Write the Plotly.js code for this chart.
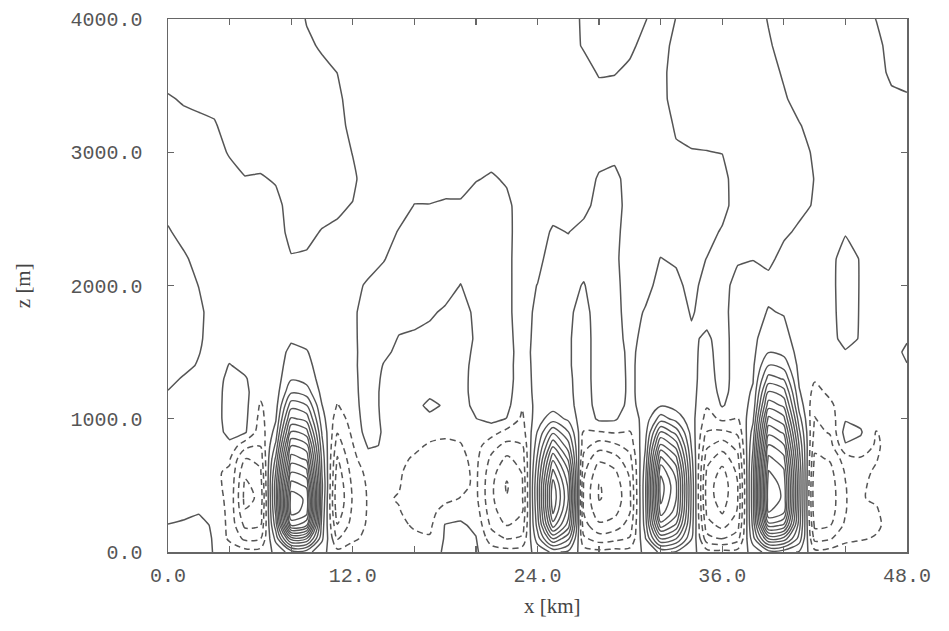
<!DOCTYPE html>
<html>
<head>
<meta charset="utf-8">
<script src="https://cdn.plot.ly/plotly-3.0.1.min.js"></script>
<style>html,body{margin:0;padding:0;background:#fff;}#plot{width:949px;height:631px;}</style>
</head>
<body>
<div id="plot"></div>
<script>
// horizontal positions (km) and heights (m) of the grid
const xKm = [0,1,2,3,4,5,6,7,8,9,10,11,12,13,14,15,16,17,18,19,20,21,22,23,24,25,26,27,28,29,30,31,32,33,34,35,36,37,38,39,40,41,42,43,44,45,46,47,48];
const zM = [0,100,200,300,400,500,600,700,800,900,1000,1100,1200,1300,1400,1500,1600,1800,2000,2200,2400,2600,2800,3000,3200,3400,3600,3800,4000];
// vertical-velocity values, one column per x position (bottom to top)
const w00 = [0.5,0.4,0.04,-0.4,-0.5,-0.5,-0.5,-0.5,-0.5,-0.5,-0.45,-0.4,-0.05,0.3,0.4,0.45,0.45,0.45,0.4,0.3,0.1,-0.3,-0.4,-0.4,-0.4,-0.1,0.4,0.5,0.5];
const w01 = [0.5,0.4,0.2,-0.3,-0.5,-0.55,-0.6,-0.6,-0.6,-0.55,-0.5,-0.4,-0.3,-0.1,0.3,0.4,0.45,0.45,0.4,0.15,-0.3,-0.4,-0.4,-0.4,-0.3,0.1,0.4,0.5,0.5];
const w02 = [0.4,0.35,0.25,-0.05,-0.5,-0.6,-0.7,-0.7,-0.7,-0.65,-0.6,-0.5,-0.4,-0.3,-0.1,0.05,0.15,0.2,-0.02,-0.3,-0.4,-0.4,-0.4,-0.4,-0.2,0.2,0.4,0.5,0.5];
const w03 = [-0.05,-0.07,-0.12,-0.3,-0.6,-0.8,-0.9,-0.9,-0.8,-0.6,-0.5,-0.5,-0.5,-0.5,-0.5,-0.5,-0.45,-0.4,-0.4,-0.4,-0.4,-0.4,-0.4,-0.4,-0.1,0.3,0.45,0.5,0.5];
const w04 = [-0.3,-1.2,-1.3,-1.3,-1.25,-1.2,-1.1,-0.9,-0.3,0.4,0.5,0.5,0.45,0.3,0.05,-0.3,-0.4,-0.4,-0.4,-0.4,-0.4,-0.4,-0.4,0.1,0.4,0.45,0.5,0.5,0.5];
const w05 = [-0.6,-2.2,-3.2,-3.9,-4.3,-4.2,-3.8,-3.05,-1.6,0.15,0.25,0.3,0.3,0.1,-0.3,-0.4,-0.4,-0.4,-0.4,-0.4,-0.4,-0.4,-0.05,0.4,0.45,0.5,0.5,0.5,0.5];
const w06 = [-0.6,-2.05,-3.05,-3.5,-3.8,-3.6,-3.2,-2.6,-1.95,-1.6,-1.3,-1.1,-0.8,-0.6,-0.4,-0.35,-0.3,-0.3,-0.3,-0.3,-0.3,-0.3,-0.1,0.4,0.45,0.5,0.5,0.5,0.5];
const w07 = [0.2,1.3,2.5,3.2,3.6,3.6,3.05,2.2,1.2,0.4,-0.1,-0.4,-0.5,-0.5,-0.45,-0.4,-0.4,-0.35,-0.35,-0.3,-0.3,-0.3,0.1,0.4,0.45,0.5,0.5,0.5,0.5];
const w08 = [1.5,6.5,12.05,14.5,14.6,13.5,11.95,10.5,8.95,7.05,5.2,3.6,1.85,0.9,0.45,0.2,-0.1,-0.2,-0.15,-0.05,0.2,0.4,0.45,0.5,0.5,0.5,0.5,0.5,0.5];
const w09 = [1.4,6.05,11.05,13.5,13.8,12.8,11.3,9.8,8.3,6.4,4.6,3.05,1.5,0.6,0.25,0.05,-0.2,-0.3,-0.3,-0.1,0.2,0.4,0.45,0.5,0.5,0.45,0.35,0.15,-0.05];
const w10 = [0.3,1.2,1.5,1.8,2.05,2.2,1.95,1.7,1.3,0.9,0.4,0.02,-0.3,-0.4,-0.4,-0.4,-0.4,-0.4,-0.4,-0.3,-0.05,0.3,0.45,0.5,0.5,0.4,0.2,-0.1,-0.4];
const w11 = [-0.7,-2.05,-2.95,-3.6,-3.9,-3.8,-3.5,-3.1,-2.5,-1.95,-1.5,-1.05,-0.8,-0.6,-0.5,-0.45,-0.4,-0.4,-0.4,-0.4,-0.1,0.1,0.35,0.4,0.35,0.2,-0.01,-0.3,-0.4];
const w12 = [-0.4,-1.2,-1.6,-1.8,-1.9,-1.8,-1.6,-1.3,-1.05,-0.8,-0.6,-0.5,-0.4,-0.35,-0.3,-0.3,-0.25,-0.2,-0.2,-0.3,-0.3,-0.03,0.15,-0.03,-0.3,-0.4,-0.4,-0.4,-0.4];
const w13 = [-0.3,-0.7,-0.85,-0.9,-0.9,-0.85,-0.7,-0.3,0.1,0.5,0.6,0.7,0.7,0.7,0.7,0.65,0.6,0.5,0.1,-0.3,-0.35,-0.4,-0.4,-0.4,-0.4,-0.4,-0.4,-0.4,-0.4];
const w14 = [-0.3,-0.6,-0.8,-0.9,-0.9,-0.8,-0.6,-0.4,-0.05,-0.1,-0.2,-0.3,-0.3,-0.2,-0.05,0.2,0.35,0.45,0.35,-0.05,-0.3,-0.4,-0.4,-0.4,-0.4,-0.4,-0.4,-0.4,-0.4];
const w15 = [-0.3,-0.6,-0.8,-0.95,-1.05,-0.95,-0.9,-0.8,-0.6,-0.5,-0.4,-0.35,-0.3,-0.3,-0.25,-0.2,-0.05,0.3,0.4,0.35,0.05,-0.3,-0.4,-0.4,-0.4,-0.4,-0.4,-0.4,-0.4];
const w16 = [-0.3,-0.8,-1.1,-1.3,-1.4,-1.4,-1.3,-1.1,-0.8,-0.6,-0.5,-0.4,-0.35,-0.3,-0.3,-0.25,-0.15,0.3,0.4,0.45,0.4,0.02,-0.3,-0.4,-0.4,-0.4,-0.4,-0.4,-0.4];
const w17 = [-0.3,-0.9,-1.2,-1.4,-1.5,-1.5,-1.45,-1.3,-1.1,-0.7,-0.3,0.3,-0.3,-0.35,-0.3,-0.25,-0.2,0.1,0.4,0.45,0.45,0.02,-0.3,-0.4,-0.4,-0.4,-0.4,-0.4,-0.4];
const w18 = [0.1,0.1,0.05,-0.5,-1.3,-1.5,-1.5,-1.4,-1.2,-0.8,-0.4,-0.15,-0.3,-0.35,-0.35,-0.3,-0.3,-0.1,0.3,0.4,0.45,0.1,-0.3,-0.4,-0.4,-0.4,-0.4,-0.4,-0.4];
const w19 = [0.4,0.35,0.15,-0.3,-0.95,-1.3,-1.3,-1.2,-1.05,-0.8,-0.5,-0.3,-0.3,-0.3,-0.3,-0.3,-0.2,-0.2,-0.02,0.3,0.4,0.1,-0.3,-0.4,-0.4,-0.4,-0.4,-0.4,-0.4];
const w20 = [0.1,0.05,-0.2,-0.5,-0.75,-0.8,-0.8,-0.75,-0.6,-0.3,-0.02,0.2,0.3,0.3,0.25,0.15,0.05,0.1,0.3,0.4,0.45,0.4,-0.05,-0.3,-0.4,-0.4,-0.4,-0.4,-0.4];
const w21 = [-0.5,-1.5,-2.2,-2.6,-2.8,-2.8,-2.6,-2.2,-1.6,-0.6,0.3,0.5,0.55,0.55,0.5,0.45,0.45,0.45,0.45,0.45,0.45,0.45,0.1,-0.3,-0.4,-0.4,-0.4,-0.4,-0.4];
const w22 = [-0.6,-2.05,-3.05,-3.6,-3.95,-4.1,-3.8,-3.2,-2.3,-1.3,-0.03,0.3,0.35,0.35,0.3,0.3,0.25,0.15,0.15,0.15,0.2,0.2,-0.1,-0.3,-0.4,-0.4,-0.4,-0.4,-0.4];
const w23 = [-0.5,-1.8,-2.6,-3.05,-3.2,-3.2,-2.95,-2.6,-2.05,-1.5,-1.2,-0.9,-0.6,-0.45,-0.4,-0.35,-0.35,-0.3,-0.3,-0.3,-0.35,-0.4,-0.4,-0.4,-0.4,-0.4,-0.4,-0.4,-0.4];
const w24 = [0.3,1.5,2.4,2.8,3.05,3.05,2.7,2.2,1.6,1.05,0.6,0.4,0.35,0.3,0.3,0.3,0.25,0.15,0.02,-0.25,-0.35,-0.4,-0.4,-0.4,-0.4,-0.4,-0.4,-0.4,-0.4];
const w25 = [1.2,5.05,8.5,10.2,10.8,10.5,9.3,7.8,5.8,3.8,1.5,0.6,0.45,0.4,0.4,0.4,0.4,0.4,0.4,0.4,0.1,-0.3,-0.4,-0.4,-0.4,-0.4,-0.4,-0.4,-0.4];
const w26 = [0.8,3.2,5.5,6.5,7.05,6.8,6.05,4.8,3.4,2.05,0.8,0.3,0.2,0.15,0.1,0.1,0.1,0.15,0.25,0.3,-0.02,-0.3,-0.4,-0.4,-0.4,-0.4,-0.4,-0.4,-0.4];
const w27 = [-0.5,-1.8,-2.6,-3.05,-3.2,-3.1,-2.8,-2.3,-1.6,-1.05,-0.7,-0.5,-0.45,-0.4,-0.4,-0.4,-0.4,-0.3,-0.05,0.3,0.3,-0.3,-0.4,-0.4,-0.4,-0.4,-0.4,0.1,0.15];
const w28 = [-0.7,-2.5,-3.8,-4.6,-5.05,-5.05,-4.6,-3.8,-2.5,-1.05,0.2,0.4,0.45,0.45,0.45,0.45,0.45,0.45,0.45,0.45,0.45,0.35,0.1,-0.3,-0.4,-0.4,0.1,0.4,0.5];
const w29 = [-0.6,-2.3,-3.5,-4.3,-4.7,-4.6,-4.2,-3.4,-2.2,-0.9,0.15,0.35,0.4,0.4,0.35,0.3,0.25,0.2,0.15,0.1,0.15,0.25,0.2,-0.2,-0.4,-0.4,0.05,0.4,0.5];
const w30 = [-0.6,-1.9,-2.6,-3.05,-3.2,-3.1,-2.8,-2.3,-1.6,-1.05,-0.6,-0.2,-0.15,-0.15,-0.15,-0.15,-0.2,-0.25,-0.25,-0.25,-0.25,-0.25,-0.3,-0.4,-0.4,-0.4,-0.2,0.2,0.4];
const w31 = [0.2,0.9,1.4,1.6,1.7,1.7,1.5,1.2,0.9,0.6,0.4,0.3,0.3,0.3,0.3,0.25,0.2,0.05,-0.2,-0.3,-0.35,-0.4,-0.4,-0.4,-0.4,-0.4,-0.4,-0.3,0.05];
const w32 = [1.2,5.05,8.5,10.5,11.3,11.5,10.8,9.3,7.3,5.05,2.5,0.9,0.6,0.5,0.45,0.45,0.4,0.35,0.2,0.02,-0.3,-0.4,-0.4,-0.4,-0.4,-0.3,-0.3,-0.4,-0.45];
const w33 = [0.9,4.05,6.8,8.5,9.05,9.2,8.6,7.3,5.6,3.6,1.6,0.6,0.45,0.4,0.4,0.35,0.35,0.3,0.2,-0.1,-0.3,-0.35,-0.3,-0.1,0.1,0.4,0.45,0.3,0.02];
const w34 = [0.3,1.05,1.5,1.7,1.8,1.8,1.6,1.3,0.9,0.6,0.4,0.35,0.3,0.25,0.2,0.15,0.1,-0.05,-0.25,-0.3,-0.3,-0.3,-0.3,-0.05,0.3,0.45,0.5,0.5,0.45];
const w35 = [-0.6,-2.6,-3.6,-4.2,-4.5,-4.5,-4.2,-3.6,-2.8,-2.05,-1.4,-0.9,-0.6,-0.4,-0.3,-0.2,-0.1,0.2,0.3,0.02,-0.3,-0.35,-0.3,-0.02,0.3,0.45,0.5,0.5,0.5];
const w36 = [-0.7,-3.05,-4.3,-5.1,-5.5,-5.6,-5.3,-4.6,-3.5,-2.2,-0.8,0.1,0.3,0.35,0.35,0.3,0.25,0.2,0.3,0.35,0.1,-0.3,-0.3,0.02,0.3,0.45,0.5,0.5,0.5];
const w37 = [-0.6,-2.4,-3.4,-3.9,-4.05,-4.05,-3.8,-3.3,-2.6,-1.8,-1.05,-0.6,-0.45,-0.4,-0.4,-0.35,-0.3,-0.3,-0.3,0.1,0.3,0.4,0.45,0.5,0.5,0.5,0.5,0.5,0.5];
const w38 = [0.3,1.6,2.3,2.6,2.7,2.7,2.6,2.3,1.9,1.4,0.8,0.3,0.1,-0.05,-0.15,-0.2,-0.25,-0.3,-0.3,0.02,0.3,0.4,0.45,0.5,0.5,0.5,0.5,0.45,0.4];
const w39 = [1.5,6.05,10.5,13.05,13.7,13.6,13.1,12.3,11.05,9.7,8.3,6.6,5.05,3.4,2.05,0.95,0.6,0.05,-0.2,0.15,0.4,0.45,0.5,0.5,0.5,0.45,0.3,0.1,-0.05];
const w40 = [1.4,5.6,9.8,12.2,12.8,12.7,12.2,11.3,10.1,8.8,7.3,5.8,4.4,2.9,1.6,0.7,0.3,-0.05,-0.3,-0.2,0.1,0.35,0.4,0.4,0.35,0.1,-0.1,-0.3,-0.4];
const w41 = [0.9,2.6,3.4,3.7,3.85,3.9,3.8,3.4,2.9,2.2,1.4,0.6,0.1,-0.2,-0.3,-0.35,-0.4,-0.4,-0.4,-0.3,-0.1,0.15,0.3,0.25,0.05,-0.3,-0.4,-0.4,-0.4];
const w42 = [-0.7,-2.3,-3.2,-3.7,-3.85,-3.85,-3.6,-3.2,-2.7,-2.3,-2.05,-1.7,-1.3,-0.9,-0.6,-0.45,-0.4,-0.35,-0.3,-0.2,-0.1,-0.05,-0.02,-0.1,-0.3,-0.4,-0.4,-0.4,-0.4];
const w43 = [-0.6,-2.1,-3.05,-3.45,-3.55,-3.5,-3.3,-2.9,-2.4,-1.9,-1.5,-1.2,-0.8,-0.5,-0.3,-0.2,-0.2,-0.2,-0.2,-0.2,-0.25,-0.3,-0.3,-0.3,-0.3,-0.3,-0.3,-0.3,-0.3];
const w44 = [-0.4,-1.3,-1.8,-2.05,-2.1,-2.05,-1.9,-1.5,-0.1,0.4,-0.1,-0.4,-0.35,-0.3,-0.2,-0.05,0.2,0.3,0.35,0.3,-0.05,-0.3,-0.3,-0.3,-0.3,-0.3,-0.3,-0.3,-0.3];
const w45 = [-0.3,-1.1,-1.25,-1.15,-1.05,-1.1,-1.2,-1.1,-0.3,0.1,-0.3,-0.4,-0.35,-0.3,-0.2,-0.1,-0.05,-0.05,-0.05,-0.05,-0.2,-0.3,-0.3,-0.3,-0.3,-0.3,-0.3,-0.35,-0.4];
const w46 = [-0.3,-0.9,-1.2,-1.1,-0.9,-0.85,-0.9,-1.05,-1.15,-1.05,-0.7,-0.5,-0.4,-0.35,-0.35,-0.4,-0.4,-0.4,-0.4,-0.4,-0.4,-0.4,-0.4,-0.4,-0.4,-0.4,-0.35,-0.3,0.02];
const w47 = [-0.2,-0.5,-0.6,-0.55,-0.5,-0.5,-0.5,-0.55,-0.6,-0.55,-0.45,-0.4,-0.4,-0.4,-0.4,-0.4,-0.4,-0.4,-0.4,-0.4,-0.4,-0.4,-0.4,-0.4,-0.4,-0.2,0.2,0.4,0.45];
const w48 = [-0.1,-0.3,-0.3,-0.3,-0.3,-0.3,-0.3,-0.3,-0.3,-0.3,-0.3,-0.3,-0.3,-0.2,-0.05,0.2,-0.1,-0.3,-0.3,-0.3,-0.3,-0.3,-0.3,-0.3,-0.3,-0.1,0.3,0.45,0.5];

const xTickVals = [0,4,8,12,16,20,24,28,32,36,40,44,48];
const xTickText = ['0.0','','','12.0','','','24.0','','','36.0','','','48.0'];
const yTickVals = [0,1000,2000,3000,4000];
const yTickText = ['0.0','1000.0','2000.0','3000.0','4000.0'];

const cols = [w00,w01,w02,w03,w04,w05,w06,w07,w08,w09,w10,w11,w12,w13,w14,w15,w16,w17,w18,w19,w20,w21,w22,w23,w24,w25,w26,w27,w28,w29,w30,w31,w32,w33,w34,w35,w36,w37,w38,w39,w40,w41,w42,w43,w44,w45,w46,w47,w48];

const LC = '#555';
function contourTrace(start, end, dash, smooth, width) {
  return {
    type: 'contour', x: xKm, y: zM, z: cols, transpose: true,
    autocontour: false,
    contours: {start: start, end: end, size: 1, coloring: 'lines', showlabels: false},
    line: {width: width, dash: dash, smoothing: smooth},
    colorscale: [[0, LC], [1, LC]], showscale: false, hoverinfo: 'skip'
  };
}
const data = [
  contourTrace(-8, -1, '6px,4px', 0.9, 1.5),
  contourTrace(0, 0.5, 'solid', 0.2, 1.5),
  contourTrace(1, 16, 'solid', 0.9, 1.4)
];
const axisCommon = {
  ticks: 'inside', ticklen: 6, tickwidth: 1.3, tickcolor: '#666',
  showline: true, linecolor: '#666', linewidth: 1.5, mirror: 'ticks',
  showgrid: false, zeroline: false, tickmode: 'array',
  tickfont: {family: 'Liberation Mono, DejaVu Sans Mono, monospace', size: 20, color: '#555'}
};
const layout = {
  width: 949, height: 631,
  margin: {l: 168, r: 42, t: 19, b: 79},
  paper_bgcolor: '#fff', plot_bgcolor: '#fff', showlegend: false,
  xaxis: Object.assign({}, axisCommon, {range: [0, 48], tickvals: xTickVals, ticktext: xTickText, ticklabelstandoff: 4}),
  yaxis: Object.assign({}, axisCommon, {range: [0, 4000], tickvals: yTickVals, ticktext: yTickText, ticklabelstandoff: 20}),
  annotations: [
    {text: 'x [km]', xref: 'paper', yref: 'paper', x: 0.52, y: -0.101, xanchor: 'center', yanchor: 'middle', showarrow: false,
     font: {family: 'Liberation Serif, serif', size: 21, color: '#444'}},
    {text: 'z [m]', xref: 'paper', yref: 'paper', x: -0.196, y: 0.499, xanchor: 'center', yanchor: 'middle', showarrow: false, textangle: -90,
     font: {family: 'Liberation Serif, serif', size: 21, color: '#444'}}
  ]
};
Plotly.newPlot('plot', data, layout, {staticPlot: true, displayModeBar: false});
</script>
</body>
</html>
